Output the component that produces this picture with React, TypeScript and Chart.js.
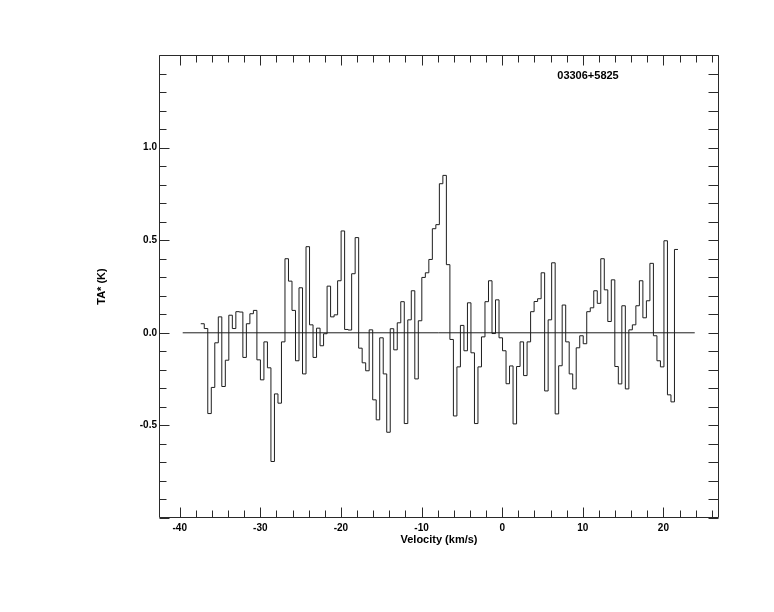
import { useEffect, useRef } from 'react';
import { Chart, registerables } from 'chart.js';

Chart.register(...registerables);

// Antenna temperature TA* (K) per spectral channel, left to right
const SPECTRUM_TA = [
  0.049, 0.023, -0.436, -0.295, -0.054, 0.086, -0.29, -0.148, 0.095, 0.023,
  0.114, 0.112, -0.133, 0.049, 0.103, 0.121, -0.146, -0.254, -0.049, -0.189,
  -0.695, -0.33, -0.38, -0.049, 0.4, 0.279, 0.121, -0.151, 0.243, -0.222,
  0.465, 0.043, -0.133, 0.025, -0.07, -0.005, 0.252, 0.086, 0.097, 0.281,
  0.55, 0.018, 0.015, 0.319, 0.514, -0.083, -0.162, -0.205, 0.016, -0.362,
  -0.47, -0.027, -0.222, -0.537, 0.022, -0.092, 0.054, 0.168, -0.49, 0.07,
  0.227, -0.249, 0.065, 0.299, 0.324, 0.396, 0.562, 0.584, 0.805, 0.85,
  0.368, -0.036, -0.449, -0.184, 0.04, -0.097, 0.162, -0.108, -0.49, -0.184,
  -0.022, 0.168, 0.281, -0.004, 0.178, -0.027, -0.097, -0.275, -0.179, -0.492,
  -0.182, -0.049, -0.231, -0.049, 0.114, 0.169, 0.184, 0.324, -0.314, 0.07,
  0.378, -0.438, -0.178, 0.15, -0.049, -0.222, -0.303, -0.081, -0.016, -0.059,
  0.114, 0.135, 0.227, 0.159, 0.4, 0.232, 0.061, 0.286, -0.182, -0.276,
  0.146, -0.303, 0.016, 0.043, 0.146, 0.281, 0.081, 0.173, 0.375, -0.016,
  -0.151, -0.184, 0.497, -0.335, -0.373, 0.45,
];
const FIRST_CHANNEL_EDGE_KMS = -37.39;
const CHANNEL_WIDTH_KMS = 0.4353;

const BASELINE_V = [-39.63, 23.89];
const BASELINE_TA = [0, 0];

const X_RANGE = [-42.57, 26.9];
const Y_RANGE = [-1.0, 1.5];
const X_LABEL_TICKS = [-40, -30, -20, -10, 0, 10, 20];
const X_MINOR_TICKS = [-40, -38, -36, -34, -32, -30, -28, -26, -24, -22, -20, -18, -16, -14, -12, -10, -8, -6, -4, -2, 0, 2, 4, 6, 8, 10, 12, 14, 16, 18, 20, 22, 24, 26];
const Y_LABEL_TICKS = [-0.5, 0.0, 0.5, 1.0];
const Y_MINOR_TICKS = [-1.0, -0.9, -0.8, -0.7, -0.6, -0.5, -0.4, -0.3, -0.2, -0.1, 0.0, 0.1, 0.2, 0.3, 0.4, 0.5, 0.6, 0.7, 0.8, 0.9, 1.0, 1.1, 1.2, 1.3, 1.4, 1.5];

const SOURCE_NAME = '03306+5825';
const X_TITLE = 'Velocity (km/s)';
const Y_TITLE = 'TA* (K)';

const FONT_FAMILY = '"Liberation Sans", Arial, Helvetica, sans-serif';
const LINE_COLOR = '#1e1e1e';
const AXIS_COLOR = '#2a2a2a';

const frameAndTicks = {
  id: 'frameAndTicks',
  afterDraw(chart: any) {
    const { ctx, chartArea: a, scales } = chart;
    const x = scales.x;
    const y = scales.y;
    const L = Math.round(a.left) + 0.5;
    const R = Math.round(a.right) - 0.5;
    const T = Math.round(a.top) + 0.5;
    const B = Math.round(a.bottom) - 0.5;
    ctx.save();
    ctx.strokeStyle = AXIS_COLOR;
    ctx.lineWidth = 1;
    ctx.beginPath();
    ctx.rect(L, T, R - L, B - T);
    X_MINOR_TICKS.forEach((v) => {
      const px = Math.round(x.getPixelForValue(v)) + 0.5;
      const major = X_LABEL_TICKS.includes(v);
      const len = major ? 10 : 7;
      ctx.moveTo(px, B);
      ctx.lineTo(px, B - len);
      ctx.moveTo(px, T);
      ctx.lineTo(px, T + len);
    });
    Y_MINOR_TICKS.forEach((v, i) => {
      const py = Math.round(y.getPixelForValue(v)) + 0.5;
      const major = i % 5 === 0;
      const len = major ? 10 : 7;
      ctx.moveTo(L, py);
      ctx.lineTo(L + len, py);
      ctx.moveTo(R, py);
      ctx.lineTo(R - 10, py);
    });
    ctx.stroke();
    ctx.fillStyle = '#000';
    ctx.font = `bold 11px ${FONT_FAMILY}`;
    ctx.textAlign = 'center';
    ctx.textBaseline = 'middle';
    ctx.fillText(SOURCE_NAME, a.left + 429, a.top + 21);
    ctx.restore();
  },
};

export default function App() {
  const canvasRef = useRef<HTMLCanvasElement | null>(null);

  useEffect(() => {
    const canvas = canvasRef.current;
    if (!canvas) return;

    const spectrumPoints = SPECTRUM_TA.map((ta, i) => ({
      x: FIRST_CHANNEL_EDGE_KMS + i * CHANNEL_WIDTH_KMS,
      y: ta,
    }));
    spectrumPoints.push({
      x: FIRST_CHANNEL_EDGE_KMS + SPECTRUM_TA.length * CHANNEL_WIDTH_KMS,
      y: SPECTRUM_TA[SPECTRUM_TA.length - 1],
    });
    const baselinePoints = BASELINE_V.map((v, i) => ({ x: v, y: BASELINE_TA[i] }));

    const tickFont = { family: FONT_FAMILY, size: 10, weight: 'bold' as const };
    const titleFont = { family: FONT_FAMILY, size: 11, weight: 'bold' as const };

    const chart = new Chart(canvas, {
      type: 'line',
      data: {
        datasets: [
          {
            data: spectrumPoints,
            stepped: 'before',
            borderColor: LINE_COLOR,
            borderWidth: 1,
            pointRadius: 0,
            fill: false,
          },
          {
            data: baselinePoints,
            borderColor: LINE_COLOR,
            borderWidth: 1,
            pointRadius: 0,
            fill: false,
          },
        ],
      },
      options: {
        animation: false,
        responsive: false,
        events: [],
        layout: { padding: { top: 55, right: 55, left: 0, bottom: 0 } },
        plugins: {
          legend: { display: false },
          tooltip: { enabled: false },
        },
        scales: {
          x: {
            type: 'linear',
            min: X_RANGE[0],
            max: X_RANGE[1],
            grid: { display: false, drawTicks: false },
            border: { display: false },
            afterBuildTicks: (scale: any) => {
              scale.ticks = X_LABEL_TICKS.map((value) => ({ value }));
            },
            afterFit: (scale: any) => {
              scale.height = 94;
            },
            ticks: {
              autoSkip: false,
              maxRotation: 0,
              padding: 4,
              color: '#000',
              font: tickFont,
              callback: (v: any) => String(v),
            },
            title: {
              display: true,
              text: X_TITLE,
              color: '#000',
              font: titleFont,
              padding: { top: 0, bottom: 65 },
            },
          },
          y: {
            type: 'linear',
            min: Y_RANGE[0],
            max: Y_RANGE[1],
            grid: { display: false, drawTicks: false },
            border: { display: false },
            afterBuildTicks: (scale: any) => {
              scale.ticks = Y_LABEL_TICKS.map((value) => ({ value }));
            },
            afterFit: (scale: any) => {
              scale.width = 159;
            },
            ticks: {
              autoSkip: false,
              padding: 2,
              color: '#000',
              font: tickFont,
              callback: (v: any) => Number(v).toFixed(1),
            },
            title: {
              display: true,
              text: Y_TITLE,
              color: '#000',
              font: titleFont,
              padding: { top: 95, bottom: 0 },
            },
          },
        },
      },
      plugins: [frameAndTicks],
    });

    return () => chart.destroy();
  }, []);

  return (
    <div style={{ position: 'absolute', left: 0, top: 0, width: 774, height: 612, background: '#fff' }}>
      <canvas ref={canvasRef} width={774} height={612} style={{ display: 'block' }} />
    </div>
  );
}
